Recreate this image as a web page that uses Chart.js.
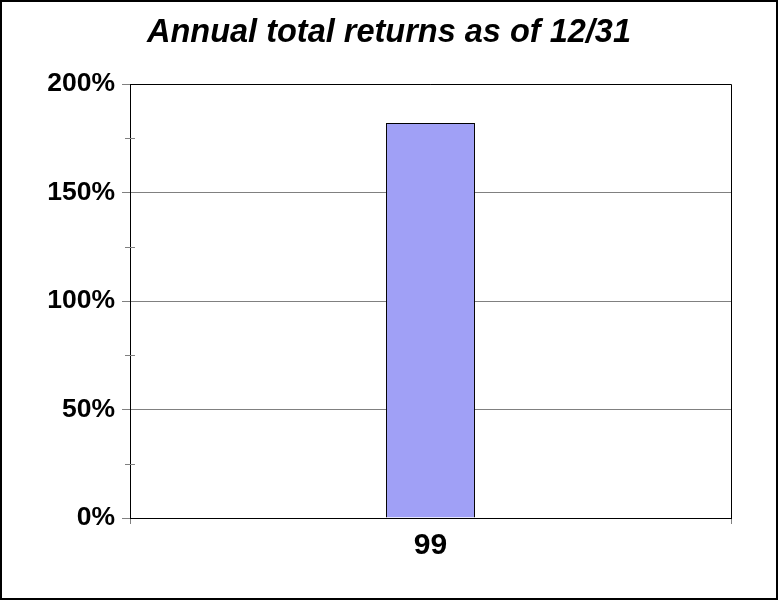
<!DOCTYPE html>
<html>
<head>
<meta charset="utf-8">
<script src="https://cdn.jsdelivr.net/npm/chart.js@4"></script>
<style>
  body { margin: 0; background: #fff; }
  canvas { display: block; }
</style>
</head>
<body>
<canvas id="chart-area" width="778" height="600"></canvas>
<script>
// data
var years = ['99'];
var returns = [182];
var minorTicks = [25, 75, 125, 175];

var FONT = '"Liberation Sans", Arial, sans-serif';

// frame, plot box and minor ticks
var extras = {
  id: 'extras',
  afterDraw: function(chart) {
    var c = chart.ctx, a = chart.chartArea, y = chart.scales.y;
    c.save();
    c.strokeStyle = '#808080';
    c.lineWidth = 1;
    minorTicks.forEach(function(v) {
      var py = Math.round(y.getPixelForValue(v)) + 0.5;
      c.beginPath();
      c.moveTo(a.left - 5, py);
      c.lineTo(a.left + 5, py);
      c.stroke();
    });
    c.strokeStyle = '#000';
    c.beginPath();
    c.moveTo(a.left, Math.round(a.top) + 0.5);
    c.lineTo(a.right + 0.5, Math.round(a.top) + 0.5);
    c.lineTo(a.right + 0.5, a.bottom);
    c.stroke();
    c.lineWidth = 2;
    c.strokeRect(1, 1, 776, 598);
    c.restore();
  }
};

var config = {
  type: 'bar',
  data: {
    labels: years,
    datasets: [{
      data: returns,
      backgroundColor: '#a0a0f6',
      borderColor: '#000',
      borderWidth: 1,
      barPercentage: 0.148,
      categoryPercentage: 1
    }]
  },
  options: {
    responsive: false,
    animation: false,
    layout: { padding: 0 },
    plugins: {
      legend: { display: false },
      tooltip: { enabled: false },
      title: {
        display: true,
        text: 'Annual total returns as of 12/31',
        color: '#000',
        font: { family: FONT, size: 32.5, weight: 'bold', style: 'italic', lineHeight: 1.2 },
        padding: { top: 14, bottom: 31 }
      }
    },
    scales: {
      x: {
        offset: true,
        grid: { offset: true, drawOnChartArea: false, tickLength: 6, tickColor: '#808080' },
        border: { color: '#000', width: 1 },
        ticks: { color: '#000', padding: 4, font: { family: FONT, size: 30, weight: 'bold' } },
        afterFit: function(s) { s.height = 82; }
      },
      y: {
        min: 0,
        max: 200,
        ticks: {
          stepSize: 50,
          color: '#000',
          padding: 7,
          font: { family: FONT, size: 26.5, weight: 'bold' },
          callback: function(v) { return v + '%'; }
        },
        grid: { color: '#808080', tickColor: '#808080', tickLength: 8 },
        border: { color: '#000', width: 1 },
        afterFit: function(s) { s.width = 130; }
      },
      // empty right margin so the title stays centred on the page
      yr: {
        position: 'right',
        min: 0,
        max: 200,
        ticks: { display: false },
        grid: { display: false },
        border: { display: false },
        afterFit: function(s) { s.width = 47; }
      }
    }
  },
  plugins: [extras]
};

var ctx = document.getElementById('chart-area').getContext('2d');
var myChart = new Chart(ctx, config);
</script>
</body>
</html>
